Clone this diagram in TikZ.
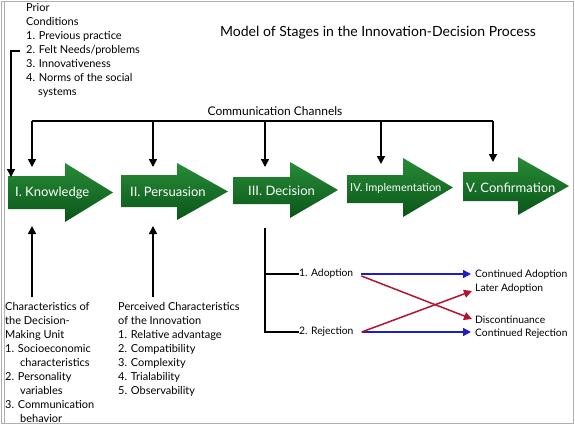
\documentclass[tikz,border=0pt]{standalone}
\usepackage{fontspec}
\setmainfont{Lato}
\usetikzlibrary{arrows.meta}
\definecolor{frame}{RGB}{175,175,175}
\definecolor{gtop}{RGB}{40,140,55}
\definecolor{gmid}{RGB}{45,155,65}
\definecolor{gbot}{RGB}{10,85,25}
\definecolor{ablue}{RGB}{30,30,200}
\definecolor{ared}{RGB}{180,20,50}
\tikzset{
  conn/.style={line width=1.5pt,black},
  arr/.style={conn,-{Triangle[width=8pt,length=8pt]}},
  barr/.style={line width=1.5pt,ablue,-{Triangle[width=8pt,length=8pt]}},
  rarr/.style={line width=1.5pt,ared,-{Triangle[width=8pt,length=8pt]}},
  stage/.style={top color=gtop,middle color=gmid,bottom color=gbot},
  stxt/.style={text=white,font=\fontsize{13}{15}\selectfont,anchor=west,inner sep=0pt},
  lbl/.style={font=\fontsize{10.3}{14}\selectfont,anchor=west,inner sep=0pt},
  blk/.style={font=\fontsize{11}{14}\selectfont,anchor=north west,align=left,inner sep=0pt},
}
\newcommand\stagearrow[8]{%
  \path[stage] (#1,#4) -- (#2,#4) -- (#2,#6) -- (#3,{(#6+#7)/2}) -- (#2,#7) -- (#2,#5) -- (#1,#5) -- cycle;
}
\begin{document}
\begin{tikzpicture}[x=1pt,y=-1pt]
\useasboundingbox (0,0) rectangle (575,425);
\fill[white] (0,0) rectangle (575,425);
\draw[frame,line width=0.8pt] (1,1) rectangle (573,423);
\draw[frame,line width=0.8pt] (4,1) -- (4,423);

% title
\node[font=\fontsize{14}{16}\selectfont,inner sep=0pt] (title) at (378,33) {Model of Stages in the Innovation-Decision Process};

% prior conditions
\node[blk] (prior) at (26,3) {Prior\\Conditions\\1. Previous practice\\2. Felt Needs/problems\\3. Innovativeness\\4. Norms of the social\\\hspace*{12pt}systems};

% stage arrows
\stagearrow{8}{65}{113}{176}{209}{163}{222}{}
\stagearrow{121}{177}{228}{175}{207}{163}{220}{}
\stagearrow{233}{290}{338}{177}{204}{162}{218}{}
\stagearrow{347}{403}{453}{175}{203}{158}{217}{}
\stagearrow{463}{518}{569}{172}{201}{157}{215}{}
\node[stxt] (k) at (15,193) {I. Knowledge};
\node[stxt] (p) at (130,192) {II. Persuasion};
\node[stxt] (d) at (248,191) {III. Decision};
\node[stxt,font=\fontsize{11}{13}\selectfont] (i) at (350,188) {IV. Implementation};
\node[stxt] (c) at (466,188) {V. Confirmation};

% communication channels
\node[font=\fontsize{12}{14}\selectfont,inner sep=0pt] (cc) at (275,111) {Communication Channels};
\coordinate (ch1) at (32,121);
\coordinate (ch2) at (153,121);
\coordinate (ch3) at (265,121);
\coordinate (ch4) at (381,121);
\coordinate (ch5) at (493,121);
\coordinate (k-in) at (32,167);
\coordinate (p-in) at (153,167);
\coordinate (d-in) at (265,167);
\coordinate (i-in) at (381,164);
\coordinate (c-in) at (493,162);
\draw[conn] (ch1) -- (ch5);
\draw[arr] (ch1) -- (k-in);
\draw[arr] (ch2) -- (p-in);
\draw[arr] (ch3) -- (d-in);
\draw[arr] (ch4) -- (i-in);
\draw[arr] (ch5) -- (c-in);

% prior conditions arrow
\coordinate (pc) at (20,51);
\coordinate (pc-in) at (11,177);
\draw[arr] (pc) -| (pc-in);

% lower blocks
\node[blk] (dmu) at (5,302) {Characteristics of\\the Decision-\\Making Unit\\1. Socioeconomic\\\hspace*{15pt}characteristics\\2. Personality\\\hspace*{15pt}variables\\3. Communication\\\hspace*{15pt}behavior};
\node[blk] (pci) at (118,302) {Perceived Characteristics\\of the Innovation\\1. Relative advantage\\2. Compatibility\\3. Complexity\\4. Trialability\\5. Observability};
\coordinate (dmu-top) at (32,297);
\coordinate (pci-top) at (153,297);
\coordinate (k-out) at (32,226);
\coordinate (p-out) at (153,226);
\draw[arr] (dmu-top) -- (k-out);
\draw[arr] (pci-top) -- (p-out);

% decision branches
\node[lbl] (adopt) at (299,274) {1. Adoption};
\node[lbl] (reject) at (299,332) {2. Rejection};
\coordinate (d-out) at (265,228);
\draw[conn] (d-out) |- (reject.west);
\draw[conn] (d-out |- adopt.west) -- (adopt.west);

\node[lbl] (ca) at (475,275) {Continued Adoption};
\node[lbl] (la) at (475,289) {Later Adoption};
\node[lbl] (dc) at (475,320) {Discontinuance};
\node[lbl] (cr) at (475,334) {Continued Rejection};
\draw[barr] ([xshift=8pt]adopt.east) -- ([xshift=-4pt]ca.west |- adopt.east);
\draw[barr] ([xshift=8pt]reject.east) -- ([xshift=-4pt]cr.west |- reject.east);
\draw[rarr] ([xshift=8pt,yshift=-2pt]adopt.east) -- ([xshift=-3pt,yshift=1pt]dc.west);
\draw[rarr] ([xshift=8pt]reject.east) -- ([xshift=-3pt,yshift=-2pt]la.west);
\end{tikzpicture}
\end{document}
